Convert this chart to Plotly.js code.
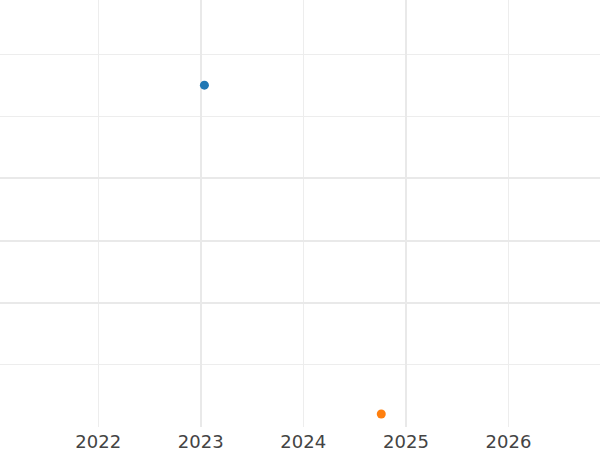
<!DOCTYPE html>
<html>
<head>
<meta charset="utf-8">
<script src="https://cdn.plot.ly/plotly-3.0.1.min.js"></script>
<style>html,body{margin:0;padding:0;background:#fff;}#chart{width:600px;height:450px;}</style>
</head>
<body>
<div id="chart"></div>
<script>
// Data
const seriesA_x = ['2023-01-14'];
const seriesA_y = [5.5];
const seriesB_x = ['2024-10-05'];
const seriesB_y = [0.21];
const xTickVals = ['2022-01-01', '2023-01-01', '2024-01-01', '2025-01-01', '2026-01-01'];
const xTickText = ['2022', '2023', '2024', '2025', '2026'];
const xMajorVals = ['2023-01-01', '2025-01-01'];
const yTickVals = [1, 2, 3, 4, 5, 6];
const yMajorVals = [2, 3, 4];
const xRange = ['2021-01-16', '2026-11-23'];
const yRange = [0, 6.87];

const traces = [
  {x: seriesA_x, y: seriesA_y, type: 'scatter', mode: 'markers',
   marker: {color: '#1f77b4', size: 9}, showlegend: false, hoverinfo: 'skip'},
  {x: seriesB_x, y: seriesB_y, type: 'scatter', mode: 'markers',
   marker: {color: '#ff7f0e', size: 9}, showlegend: false, hoverinfo: 'skip'},
  {x: [], y: [], xaxis: 'x2', yaxis: 'y2', type: 'scatter', mode: 'markers', showlegend: false}
];

const layout = {
  width: 600, height: 450,
  margin: {l: 0, r: 0, t: 0, b: 23},
  paper_bgcolor: '#ffffff', plot_bgcolor: '#ffffff',
  showlegend: false,
  font: {family: 'DejaVu Sans', color: '#444444'},
  xaxis: {type: 'date', range: xRange, tickmode: 'array', tickvals: xTickVals, ticktext: xTickText,
          showgrid: true, gridcolor: '#ededed', gridwidth: 1, zeroline: false, showline: false,
          ticks: '', ticklabelstandoff: 2, tickfont: {size: 18, color: '#444444', family: 'DejaVu Sans'}, automargin: false},
  yaxis: {range: yRange, tickmode: 'array', tickvals: yTickVals, showticklabels: false,
          showgrid: true, gridcolor: '#ededed', gridwidth: 1, zeroline: false, showline: false, ticks: ''},
  xaxis2: {type: 'date', overlaying: 'x', range: xRange, tickmode: 'array', tickvals: xMajorVals,
           showticklabels: false, showgrid: true, gridcolor: '#e9e9e9', gridwidth: 2, zeroline: false, ticks: ''},
  yaxis2: {overlaying: 'y', range: yRange, tickmode: 'array', tickvals: yMajorVals,
           showticklabels: false, showgrid: true, gridcolor: '#e9e9e9', gridwidth: 2, zeroline: false, ticks: ''}
};

Plotly.newPlot('chart', traces, layout, {staticPlot: true, displayModeBar: false});
</script>
</body>
</html>
